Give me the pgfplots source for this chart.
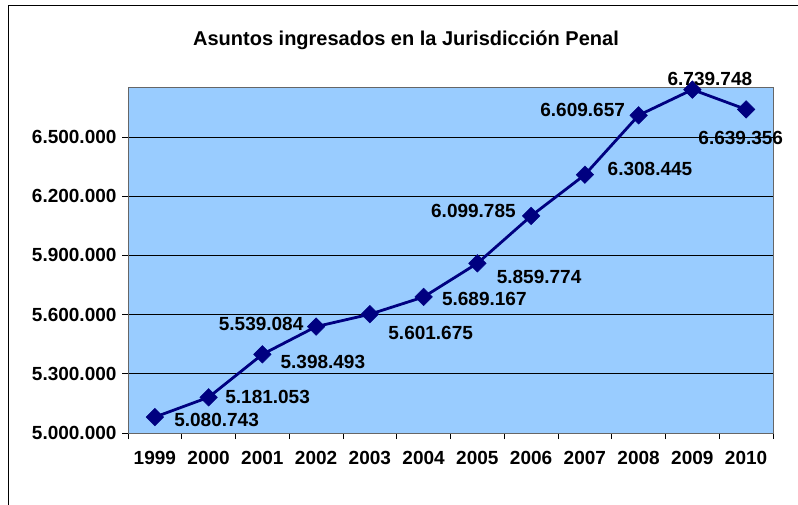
\documentclass[border=0pt]{standalone}
\usepackage{pgfplots}
\pgfplotsset{compat=1.18}
\usepackage{pgfplotstable}
\usepackage{fontspec}
\setmainfont{Liberation Sans}
\definecolor{plotbg}{RGB}{153,204,255}
\definecolor{serie}{RGB}{0,0,128}
\pgfplotstableread{
x y lab dx dy
0 5080743 5.080.743 61.7 -2.7
1 5181053 5.181.053 59.0 0.6
2 5398493 5.398.493 60.5 -7.4
3 5539084 5.539.084 -55.0 2.4
4 5601675 5.601.675 60.8 -18.7
5 5689167 5.689.167 60.7 -2.3
6 5859774 5.859.774 61.7 -13.4
7 6099785 6.099.785 -57.7 5.0
8 6308445 6.308.445 65.1 6.0
9 6609657 6.609.657 -56.0 5.3
10 6739748 6.739.748 17.5 11.0
11 6639356 6.639.356 -5.4 -28.3
}\datatable
\newcommand{\lblfont}{\fontsize{19}{21}\selectfont\bfseries}
\begin{document}
\begin{tikzpicture}[x=1pt,y=1pt]
\useasboundingbox (0,0) rectangle (798,504);
\clip (0,0) rectangle (798,504);
\fill[white] (0,0) rectangle (798,504);
\draw[line width=1.8pt] (8.5,-20) rectangle (830,498.5);
\node[font=\fontsize{20}{22}\selectfont\bfseries] at (406,464) {Asuntos ingresados en la Jurisdicción Penal};
\begin{axis}[
  at={(128pt,71pt)}, anchor=south west,
  scale only axis, width=645pt, height=346pt,
  xmin=-0.5, xmax=11.5, ymin=5000000, ymax=6753000,
  clip=false,
  axis background/.style={fill=plotbg},
  axis line style={draw=gray!80!black, line width=0.8pt},
  xtick={0,...,11},
  xticklabels={1999,2000,2001,2002,2003,2004,2005,2006,2007,2008,2009,2010},
  minor xtick={-0.5,0.5,...,11.5},
  major x tick style={draw=none},
  minor x tick style={black, line width=0.8pt},
  minor tick length=6pt,
  ytick={5000000,5300000,5600000,5900000,6200000,6500000},
  yticklabels={5.000.000,5.300.000,5.600.000,5.900.000,6.200.000,6.500.000},
  y tick style={black, line width=0.8pt},
  major tick length=6pt,
  tick align=outside,
  ymajorgrids,
  major grid style={black, line width=0.7pt},
  xtick pos=bottom, ytick pos=left,
  tick label style={font=\lblfont},
  xticklabel style={yshift=-9pt},
  yticklabel style={xshift=-2pt},
  scaled ticks=false,
]
\addplot[serie, line width=2.8pt, mark=square*, mark size=6.2pt,
  mark options={rotate=45, fill=serie, draw=serie, line width=0.5pt},
  point meta=explicit symbolic,
  visualization depends on={\thisrow{dx} \as \dx},
  visualization depends on={\thisrow{dy} \as \dy},
  nodes near coords,
  nodes near coords style={anchor=center, xshift=\dx pt, yshift=\dy pt, font=\lblfont, text=black, inner sep=0pt},
] table[x=x, y=y, meta=lab] {\datatable};
\end{axis}
\end{tikzpicture}
\end{document}
